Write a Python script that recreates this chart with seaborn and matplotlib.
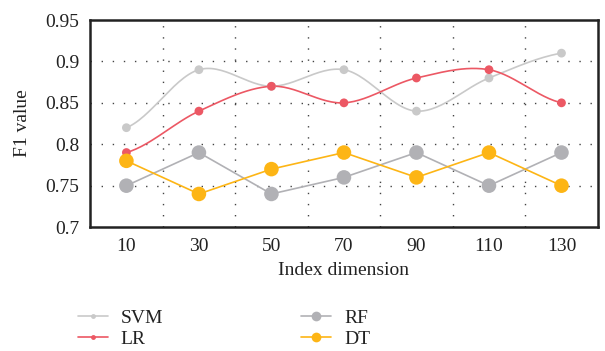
import numpy as np
import pandas as pd
import matplotlib
matplotlib.use("Agg")
import matplotlib.pyplot as plt
import seaborn as sns
from matplotlib.lines import Line2D

dims = ["10", "30", "50", "70", "90", "110", "130"]
svm = [0.82, 0.89, 0.87, 0.89, 0.84, 0.88, 0.91]
lr = [0.79, 0.84, 0.87, 0.85, 0.88, 0.89, 0.85]
rf = [0.75, 0.79, 0.74, 0.76, 0.79, 0.75, 0.79]
dt = [0.78, 0.74, 0.77, 0.79, 0.76, 0.79, 0.75]
yticks = [0.7, 0.75, 0.8, 0.85, 0.9, 0.95]
ytick_labels = ["0.7", "0.75", "0.8", "0.85", "0.9", "0.95"]

sns.set_style("white")
plt.rcParams['font.family'] = ['Liberation Serif', 'DejaVu Serif']

colors = {"SVM": "#c9c9c9", "LR": "#ec5864", "RF": "#b1b1b5", "DT": "#fdb515"}
FS = 14

fig = plt.figure(figsize=(6.05, 3.51), dpi=100)
ax = fig.add_axes([0.149, 0.353, 0.839, 0.590])


def catmull(xs, ys, n=30):
    xs = np.asarray(xs, float); ys = np.asarray(ys, float)
    px = np.concatenate([[2 * xs[0] - xs[1]], xs, [2 * xs[-1] - xs[-2]]])
    py = np.concatenate([[ys[0]], ys, [ys[-1]]])
    ox, oy = [], []
    for i in range(1, len(px) - 2):
        t = np.linspace(0, 1, n)
        p0, p1, p2, p3 = py[i - 1], py[i], py[i + 1], py[i + 2]
        q0, q1, q2, q3 = px[i - 1], px[i], px[i + 1], px[i + 2]
        f = lambda a0, a1, a2, a3: 0.5 * ((2 * a1) + (-a0 + a2) * t + (2 * a0 - 5 * a1 + 4 * a2 - a3) * t ** 2 + (-a0 + 3 * a1 - 3 * a2 + a3) * t ** 3)
        ox.append(f(q0, q1, q2, q3)); oy.append(f(p0, p1, p2, p3))
    return np.concatenate(ox), np.concatenate(oy)

xpos = np.arange(len(dims))

for name, vals in [("SVM", svm), ("LR", lr)]:
    sx, sy = catmull(xpos, vals)
    sns.lineplot(x=sx, y=sy, ax=ax, color=colors[name], lw=1.2, sort=False, zorder=3)
    sns.scatterplot(x=xpos, y=vals, ax=ax, color=colors[name], s=40, edgecolor="none", zorder=4)

for name, vals in [("RF", rf), ("DT", dt)]:
    sns.lineplot(x=xpos, y=vals, ax=ax, color=colors[name], lw=1.2, zorder=3)
    sns.scatterplot(x=xpos, y=vals, ax=ax, color=colors[name], s=110, edgecolor="none", zorder=4)

ax.set_xlim(-0.5, len(dims) - 0.5)
ax.set_ylim(0.7, 0.95)
ax.set_xticks(xpos)
ax.set_xticklabels(dims)
ax.set_yticks(yticks)
ax.set_yticklabels(ytick_labels)
ax.tick_params(axis="both", which="both", length=0, labelsize=FS, colors="#222222", pad=8)
ax.grid(False)
for y in yticks[1:-1]:
    ax.axhline(y, color="#444444", lw=1.0, ls=(0, (1, 7)), zorder=1)
for x in xpos[:-1] + 0.5:
    ax.axvline(x, color="#444444", lw=1.0, ls=(0, (1, 7)), zorder=1)
for s in ax.spines.values():
    s.set_color("#222222"); s.set_linewidth(1.8)

ax.set_xlabel("Index dimension", fontsize=FS, color="#222222", labelpad=5)
ax.set_ylabel("F1 value", fontsize=FS, color="#222222", labelpad=10)

handles = [
    Line2D([], [], color=colors["SVM"], lw=1.2, marker="o", ms=3.5, mec="none"),
    Line2D([], [], color=colors["LR"], lw=1.2, marker="o", ms=3.5, mec="none"),
    Line2D([], [], color=colors["RF"], lw=1.2, marker="o", ms=7, mec="none"),
    Line2D([], [], color=colors["DT"], lw=1.2, marker="o", ms=7, mec="none"),
]
fig.legend(handles, ["SVM", "LR", "RF", "DT"], ncol=2, loc="upper left",
           bbox_to_anchor=(78 / 605, 1 - 309 / 351), frameon=False, fontsize=FS,
           borderpad=0, borderaxespad=0,
           handlelength=1.55, columnspacing=7.1, labelspacing=0.2, handletextpad=0.65,
           labelcolor="#222222")

fig.savefig("out.png", dpi=100)
